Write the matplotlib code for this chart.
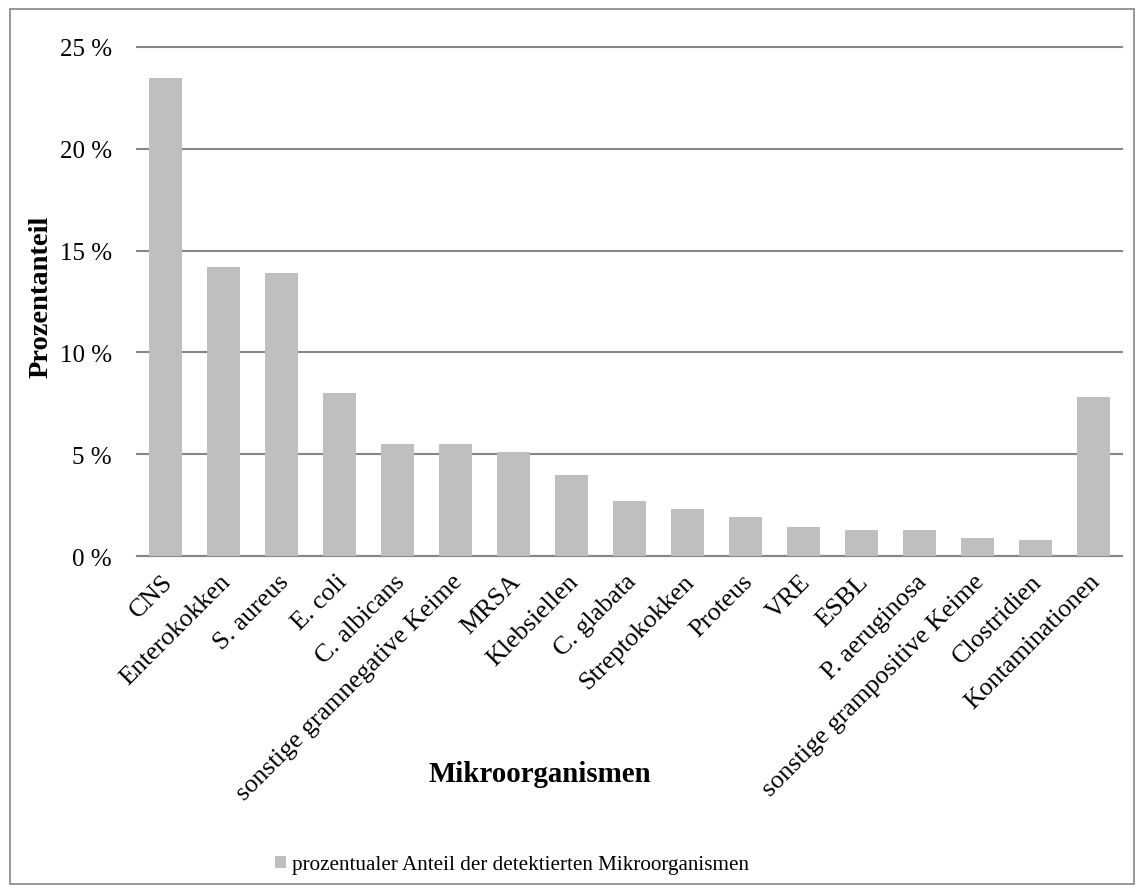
import matplotlib
matplotlib.use("Agg")
import matplotlib.pyplot as plt
import matplotlib.transforms as mtransforms
from matplotlib.patches import Rectangle

# Daten
kategorien = [
    "CNS", "Enterokokken", "S. aureus", "E. coli", "C. albicans",
    "sonstige gramnegative Keime", "MRSA", "Klebsiellen", "C. glabata",
    "Streptokokken", "Proteus", "VRE", "ESBL", "P. aeruginosa",
    "sonstige grampositive Keime", "Clostridien", "Kontaminationen",
]
anteil = [23.5, 14.2, 13.9, 8.0, 5.5, 5.5, 5.1, 4.0, 2.7,
          2.3, 1.9, 1.4, 1.3, 1.3, 0.9, 0.8, 7.8]
y_ticks = [0, 5, 10, 15, 20, 25]
y_labels = ["0 %", "5 %", "10 %", "15 %", "20 %", "25 %"]

plt.rcParams["font.family"] = ["Liberation Serif", "DejaVu Serif"]

fig = plt.figure(figsize=(11.44, 8.95), dpi=100)
ax = fig.add_axes([137 / 1144, 338 / 895, (1122 - 137) / 1144, (557 - 48) / 895])

grau = "#868686"
balken = "#bfbfbf"

ax.bar(range(len(kategorien)), anteil, width=0.57, color=balken, zorder=3,
       label="prozentualer Anteil der detektierten Mikroorganismen")

ax.set_xlim(-0.5, len(kategorien) - 0.5)
ax.set_ylim(0, 25)
ax.set_yticks(y_ticks)
ax.set_yticklabels(y_labels, fontsize=18)
ax.yaxis.grid(True, color=grau, linewidth=1.5, zorder=0)
for gl in ax.get_ygridlines():
    gl.set_clip_on(False)
ax.tick_params(axis="y", length=0, pad=18)
ax.tick_params(axis="x", length=0, pad=10)

ax.set_xticks(range(len(kategorien)))
ax.set_xticklabels(kategorien, rotation=45, ha="right", va="top",
                   rotation_mode="anchor", fontsize=18.7)
# Beschriftungen etwas nach links verschieben
versatz = mtransforms.ScaledTranslation(-4 / 100, 0, fig.dpi_scale_trans)
for lbl in ax.get_xticklabels():
    lbl.set_transform(lbl.get_transform() + versatz)

for s in ["top", "right", "left"]:
    ax.spines[s].set_visible(False)
ax.spines["bottom"].set_color(grau)
ax.spines["bottom"].set_linewidth(1.5)

fig.text(540 / 1144, 1 - 775 / 895, "Mikroorganismen", fontsize=20.8,
         fontweight="bold", ha="center", va="center")
fig.text(41 / 1144, 1 - 297 / 895, "Prozentanteil", fontsize=20.5,
         fontweight="bold", ha="center", va="center", rotation=90)

ax.legend(loc="center", bbox_to_anchor=(512 / 1144, 1 - 866 / 895),
          bbox_transform=fig.transFigure, frameon=False, fontsize=15.2,
          handlelength=0.55, handleheight=0.55, handletextpad=0.3)

# Rahmen um die Grafik
fig.patches.append(Rectangle((10 / 1144, 10 / 895), 1124 / 1144, 875 / 895,
                             transform=fig.transFigure, fill=False,
                             edgecolor=grau, linewidth=1.2))

fig.savefig("out.png", dpi=100)
